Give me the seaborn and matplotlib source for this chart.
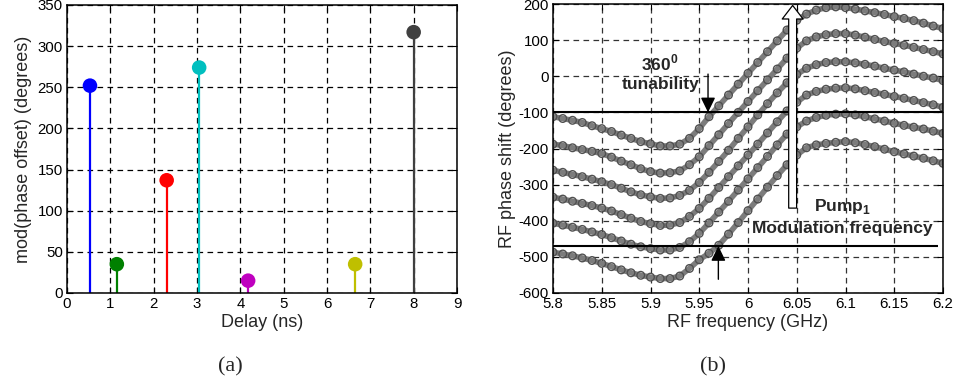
import matplotlib
matplotlib.use('Agg')
import matplotlib.pyplot as plt
from matplotlib.patches import FancyArrowPatch
from matplotlib.ticker import FuncFormatter
import pandas as pd
import seaborn as sns

# ---------------- data: panel (a) ----------------
delays = [0.53, 1.15, 2.30, 3.05, 4.18, 6.65, 8.00]
phase_offsets = [252, 35, 137, 274, 15, 35, 317]
stem_colors = ['#0000FF', '#008000', '#FF0000', '#00BFBF', '#BF00BF', '#BFBF00', '#404040']

# ---------------- data: panel (b) ----------------
freq = [5.80, 5.81, 5.82, 5.83, 5.84, 5.85, 5.86, 5.87, 5.88, 5.89,
        5.90, 5.91, 5.92, 5.93, 5.94, 5.95, 5.96, 5.97, 5.98, 5.99,
        6.00, 6.01, 6.02, 6.03, 6.04, 6.05, 6.06, 6.07, 6.08, 6.09,
        6.10, 6.11, 6.12, 6.13, 6.14, 6.15, 6.16, 6.17, 6.18, 6.19, 6.20]

curve1 = [-112, -117, -122, -128, -137, -145, -153, -163, -172, -181,
          -187, -193, -193, -188, -172, -145, -112, -82, -52, -22,
          8, 38, 68, 98, 128, 155, 172, 183, 190, 192,
          190, 186, 181, 176, 171, 165, 160, 154, 147, 139, 132]
curve2 = [-188, -192, -198, -203, -208, -214, -224, -235, -245, -256,
          -264, -268, -267, -262, -245, -223, -192, -162, -131, -100,
          -70, -40, -10, 20, 50, 78, 98, 109, 115, 118,
          118, 114, 108, 102, 96, 91, 86, 80, 74, 68, 62]
curve3 = [-260, -266, -272, -278, -285, -292, -300, -310, -320, -328,
          -334, -338, -337, -330, -316, -294, -266, -236, -205, -172,
          -140, -107, -76, -46, -18, 5, 22, 32, 38, 40,
          40, 37, 33, 28, 22, 17, 12, 6, 0, -5, -12]
curve4 = [-335, -340, -346, -352, -358, -365, -373, -383, -393, -402,
          -408, -413, -412, -405, -388, -366, -338, -308, -278, -248,
          -218, -188, -157, -126, -96, -72, -52, -42, -36, -33,
          -32, -35, -40, -45, -50, -56, -61, -67, -73, -79, -86]
curve5 = [-407, -412, -418, -424, -431, -438, -447, -456, -465, -472,
          -477, -481, -481, -474, -458, -435, -406, -376, -346, -315,
          -284, -253, -222, -190, -160, -140, -124, -114, -108, -105,
          -104, -107, -112, -118, -124, -130, -136, -141, -146, -152, -158]
curve6 = [-487, -492, -497, -503, -510, -518, -527, -536, -544, -551,
          -556, -560, -560, -553, -532, -508, -490, -468, -437, -405,
          -372, -340, -307, -275, -245, -218, -198, -190, -186, -183,
          -181, -184, -189, -195, -202, -209, -215, -221, -227, -234, -241]
curve_names = ['c1', 'c2', 'c3', 'c4', 'c5', 'c6']
curves = [curve1, curve2, curve3, curve4, curve5, curve6]

left_xticks = [0, 1, 2, 3, 4, 5, 6, 7, 8, 9]
left_yticks = [0, 50, 100, 150, 200, 250, 300, 350]
right_xticks = [5.8, 5.85, 5.9, 5.95, 6.0, 6.05, 6.1, 6.15, 6.2]
right_yticks = [-600, -500, -400, -300, -200, -100, 0, 100, 200]

# ---------------- style ----------------
sns.set_style('ticks')
plt.rcParams['font.family'] = ['Liberation Sans', 'DejaVu Sans']
plt.rcParams['mathtext.fontset'] = 'custom'
plt.rcParams['mathtext.rm'] = 'Liberation Sans'
plt.rcParams['mathtext.bf'] = 'Liberation Sans:bold'
plt.rcParams['axes.linewidth'] = 1.1
plt.rcParams['axes.edgecolor'] = 'black'

fig = plt.figure(figsize=(9.55, 3.87), dpi=100)
ax1 = fig.add_axes([67 / 955, 94 / 387, 390 / 955, 288 / 387])
ax2 = fig.add_axes([553 / 955, 94 / 387, 390 / 955, 289 / 387])

grid_ls = (0, (4.5, 3.5))
fmt = FuncFormatter(lambda v, p: ('%g' % round(v, 3)))

for ax in (ax1, ax2):
    ax.set_axisbelow(True)
    ax.tick_params(direction='in', length=4, width=0.8, top=True, right=True,
                   labelsize=10.8, pad=3, colors='black')
    for s in ax.spines.values():
        s.set_visible(True)
        s.set_color('black')

# ---------------- panel (a) ----------------
df_a = pd.DataFrame({'delay': delays, 'phase': phase_offsets,
                     'idx': [str(i) for i in range(len(delays))]})
ax1.vlines(delays, 0, phase_offsets, colors=stem_colors, lw=1.6, zorder=2)
sns.scatterplot(data=df_a, x='delay', y='phase', hue='idx', palette=stem_colors,
                s=110, edgecolor='none', legend=False, ax=ax1, zorder=3, clip_on=False)
ax1.set_xlim(0, 9)
ax1.set_ylim(0, 350)
ax1.set_xticks(left_xticks)
ax1.set_yticks(left_yticks)
ax1.grid(True, ls=grid_ls, color='black', lw=0.9)
ax1.set_xlabel('Delay (ns)', fontsize=13, labelpad=2)
ax1.set_ylabel('mod(phase offset) (degrees)', fontsize=13, labelpad=4)

# ---------------- panel (b) ----------------
rows = []
for name, vals in zip(curve_names, curves):
    for f, v in zip(freq, vals):
        rows.append((f, v, name))
df_b = pd.DataFrame(rows, columns=['freq', 'phase', 'curve'])
sns.lineplot(data=df_b, x='freq', y='phase', hue='curve',
             palette=['#7c7c7c'] * 6, estimator=None, sort=False,
             lw=4.0, legend=False, ax=ax2, zorder=2)
sns.scatterplot(data=df_b, x='freq', y='phase', hue='curve',
                palette=['#505050'] * 6, marker='o', s=30,
                linewidth=1.0, legend=False, ax=ax2, zorder=2.5)
# make scatter markers hollow
for coll in ax2.collections:
    coll.set_edgecolor('#505050')
    coll.set_facecolor('none')

ax2.set_xlim(5.8, 6.2)
ax2.set_ylim(-600, 200)
ax2.set_xticks(right_xticks)
ax2.set_yticks(right_yticks)
ax2.xaxis.set_major_formatter(fmt)
ax2.yaxis.set_major_formatter(fmt)
ax2.grid(True, ls=grid_ls, color='#333333', lw=0.9)
ax2.set_xlabel('RF frequency (GHz)', fontsize=13, labelpad=2)
ax2.set_ylabel('RF phase shift (degrees)', fontsize=13, labelpad=2)

# reference lines
ax2.axhline(-100, color='black', lw=1.5, zorder=3)
ax2.hlines(-470, 5.8, 6.195, color='black', lw=1.5, zorder=3)

# annotations
ax2.text(5.9097, 36, r'360$^{\mathbf{0}}$', ha='center', va='center',
         fontsize=12.5, fontweight='bold', zorder=5)
ax2.text(5.9105, -22, 'tunability', ha='center', va='center',
         fontsize=12.5, fontweight='bold', zorder=5)
ax2.annotate('', xy=(5.959, -100), xytext=(5.959, 6),
             arrowprops=dict(arrowstyle='-|>,head_length=0.45,head_width=0.22',
                             color='black', lw=1.0, shrinkA=0, shrinkB=0,
                             mutation_scale=20), zorder=5)
ax2.annotate('', xy=(5.9696, -470), xytext=(5.9696, -562),
             arrowprops=dict(arrowstyle='-|>,head_length=0.45,head_width=0.22',
                             color='black', lw=1.0, shrinkA=0, shrinkB=0,
                             mutation_scale=20), zorder=5)
big = FancyArrowPatch((6.0458, -365), (6.0458, 196),
                      arrowstyle='simple,head_width=1.0,head_length=0.65,tail_width=0.38',
                      mutation_scale=15, fc='white', ec='black', lw=0.9,
                      shrinkA=0, shrinkB=0, zorder=6)
ax2.add_patch(big)
ax2.text(6.0968, -361, r'Pump$_{\mathbf{1}}$', ha='center', va='center',
         fontsize=12.5, fontweight='bold', zorder=5)
ax2.text(6.097, -421, 'Modulation frequency', ha='center', va='center',
         fontsize=12.5, fontweight='bold', zorder=5)

# captions
fig.text(230 / 955, 1 - 367 / 387, '(a)', ha='center', va='center',
         fontsize=16, family='Liberation Serif')
fig.text(713 / 955, 1 - 367 / 387, '(b)', ha='center', va='center',
         fontsize=16, family='Liberation Serif')

fig.savefig('out.png', dpi=100)
